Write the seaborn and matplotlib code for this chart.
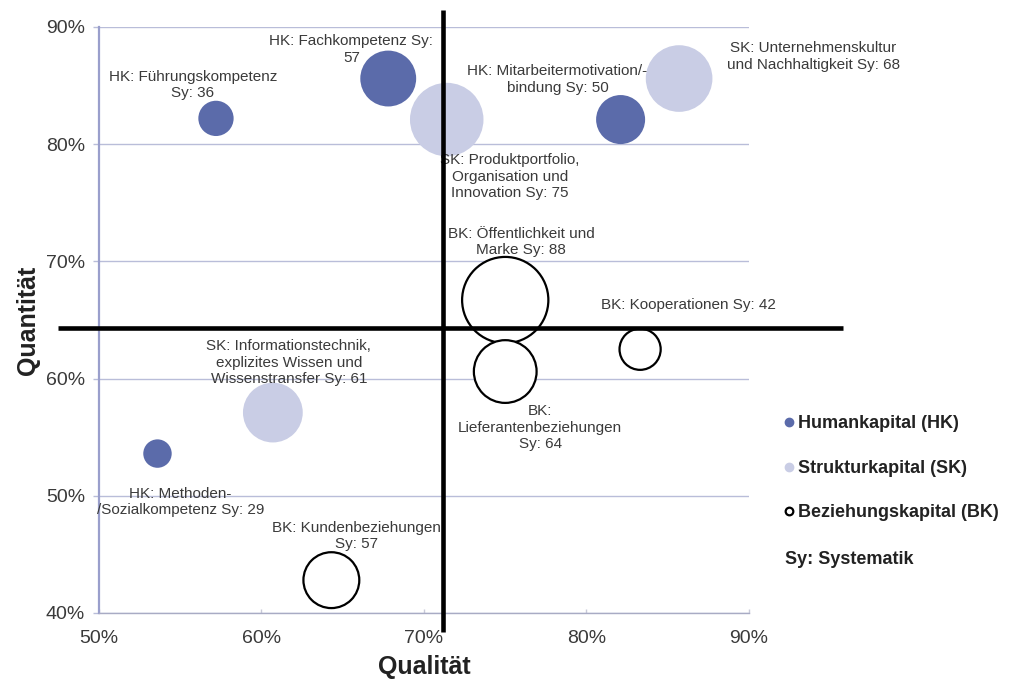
import matplotlib
matplotlib.use("Agg")
import matplotlib.pyplot as plt
from matplotlib.lines import Line2D
from matplotlib.ticker import FuncFormatter, MultipleLocator
import seaborn as sns
import pandas as pd

# ---------------- data ----------------
labels = [
    "HK: Führungskompetenz\nSy: 36",
    "HK: Fachkompetenz Sy:\n57",
    "HK: Mitarbeitermotivation/-\nbindung Sy: 50",
    "HK: Methoden-\n/Sozialkompetenz Sy: 29",
    "SK: Produktportfolio,\nOrganisation und\nInnovation Sy: 75",
    "SK: Unternehmenskultur\nund Nachhaltigkeit Sy: 68",
    "SK: Informationstechnik,\nexplizites Wissen und\nWissenstransfer Sy: 61",
    "BK: Öffentlichkeit und\nMarke Sy: 88",
    "BK: Kooperationen Sy: 42",
    "BK:\nLieferantenbeziehungen\nSy: 64",
    "BK: Kundenbeziehungen\nSy: 57",
]
kategorie = ["HK", "HK", "HK", "HK", "SK", "SK", "SK", "BK", "BK", "BK", "BK"]
qualitaet = [57.2, 67.8, 82.1, 53.6, 71.4, 85.7, 60.7, 75.0, 83.3, 75.0, 64.3]
quantitaet = [82.2, 85.6, 82.1, 53.6, 82.1, 85.6, 57.1, 66.7, 62.5, 60.6, 42.8]
systematik = [36, 57, 50, 29, 75, 68, 61, 88, 42, 64, 57]

legend_labels = ["Humankapital (HK)", "Strukturkapital (SK)", "Beziehungskapital (BK)"]
x_ticks = [50, 60, 70, 80, 90]
y_ticks = [40, 50, 60, 70, 80, 90]
quadrant_x = 71.2
quadrant_y = 64.3

# ---------------- layout / style ----------------
label_offsets = [  # text offsets in points from bubble centre
    (-16.6, 23.8), (-26.6, 20.9), (-45.4, 28.8), (16.6, -34.6),
    (45.4, -41.0), (96.5, 15.8), (11.5, 36.0),
    (11.5, 41.8), (34.6, 31.7), (25.2, -40.3), (18.0, 31.7),
]
colors = {"HK": "#5B6BAA", "SK": "#C9CDE5", "BK": "#FFFFFF"}
edges = {"HK": "none", "SK": "none", "BK": "black"}
lws = {"HK": 0, "SK": 0, "BK": 1.6}
txt_col = "#3A3A3A"
grid_col = "#B9BDD9"
spine_col = "#9A9FCC"

sns.set_theme(style="white")
plt.rcParams["font.family"] = ["Liberation Sans", "DejaVu Sans"]

df = pd.DataFrame({
    "Label": labels, "Kategorie": kategorie,
    "Qualität": qualitaet, "Quantität": quantitaet, "Sy": systematik,
})
df["Fläche"] = df["Sy"] ** 2

fig = plt.figure(figsize=(10.09, 6.81), dpi=100)
ax = fig.add_axes([0.0981, 0.0999, 0.6442, 0.8605])

smax = 0.498 * 88 ** 2
for cat in ["SK", "HK", "BK"]:
    sub = df[df["Kategorie"] == cat]
    sns.scatterplot(
        data=sub, x="Qualität", y="Quantität", size="Fläche",
        sizes=(0, smax), size_norm=(0, 88 ** 2),
        color=colors[cat], edgecolor=edges[cat], linewidth=lws[cat],
        alpha=1, legend=False, ax=ax, zorder=3,
    )

for (_, r), (dx, dy) in zip(df.iterrows(), label_offsets):
    ax.annotate(r["Label"], xy=(r["Qualität"], r["Quantität"]), xytext=(dx, dy),
                textcoords="offset points", ha="center", va="center",
                multialignment="center", fontsize=11, color=txt_col, zorder=4,
                annotation_clip=False)

# quadrant lines (extend beyond plot area)
ax.plot([quadrant_x, quadrant_x], [38.4, 91.45], color="black", lw=3.3,
        clip_on=False, zorder=5, solid_capstyle="butt")
ax.plot([47.5, 95.8], [quadrant_y, quadrant_y], color="black", lw=3.3,
        clip_on=False, zorder=5, solid_capstyle="butt")

ax.set_xlim(50, 90)
ax.set_ylim(40, 90)
ax.xaxis.set_major_locator(MultipleLocator(10))
ax.yaxis.set_major_locator(MultipleLocator(10))
pct = FuncFormatter(lambda v, p: f"{v:.0f}%")
ax.xaxis.set_major_formatter(pct)
ax.yaxis.set_major_formatter(pct)
ax.set_xticks(x_ticks)
ax.set_yticks(y_ticks)

ax.grid(axis="y", color=grid_col, lw=1.0, zorder=0)
ax.grid(axis="x", visible=False)
ax.set_axisbelow(True)
for s in ["top", "right"]:
    ax.spines[s].set_visible(False)
ax.spines["left"].set_color(spine_col)
ax.spines["left"].set_linewidth(1.6)
ax.spines["bottom"].set_color("#A8ABC4")
ax.spines["bottom"].set_linewidth(1.0)

ax.tick_params(axis="y", length=4, width=1, color=grid_col, direction="out",
               pad=6, labelsize=14, labelcolor=txt_col, left=True)
ax.tick_params(axis="x", length=3, width=1, color="#C8CAD8", direction="in",
               pad=12, labelsize=14, labelcolor=txt_col, bottom=True)

ax.set_xlabel("Qualität", fontsize=18, fontweight="bold", color="#222222", labelpad=6)
ax.set_ylabel("Quantität", fontsize=18, fontweight="bold", color="#222222", labelpad=4)

handles = [
    Line2D([], [], ls="", marker="o", markersize=6, markerfacecolor=colors["HK"],
           markeredgecolor=colors["HK"]),
    Line2D([], [], ls="", marker="o", markersize=6, markerfacecolor=colors["SK"],
           markeredgecolor=colors["SK"]),
    Line2D([], [], ls="", marker="o", markersize=5.5, markerfacecolor="white",
           markeredgecolor="black", markeredgewidth=1.6),
]
fig.legend(handles, legend_labels, loc="upper left", bbox_to_anchor=(0.776, 0.390),
           frameon=False, prop={"weight": "bold", "size": 13}, labelspacing=1.52,
           handlelength=0.7, handletextpad=0.15, borderpad=0, borderaxespad=0,
           labelcolor="#222222")
fig.text(0.778, 0.178, "Sy: Systematik", fontsize=13, fontweight="bold",
         color="#222222", va="center", ha="left")

fig.savefig("out.png", dpi=100, facecolor="white")
